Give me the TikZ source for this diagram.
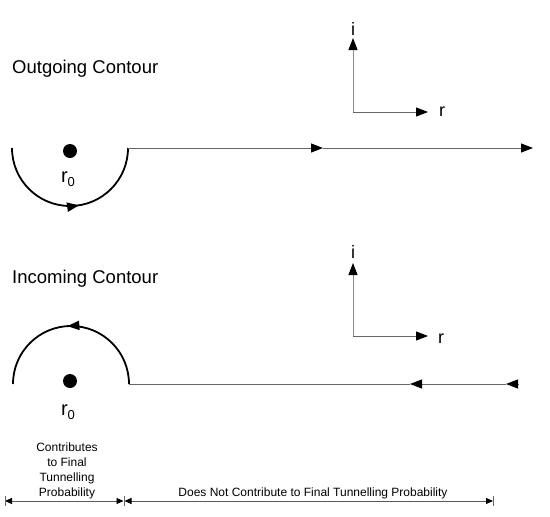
\documentclass[tikz,border=0pt]{standalone}
\usepackage{fontspec}
\setmainfont{Liberation Sans}
\usetikzlibrary{arrows.meta}
\usetikzlibrary{decorations.markings}

\tikzset{
	bigtip/.style={-{Triangle[length=12pt,width=9pt,color=black]}},
	dimline/.style={{Triangle[length=7pt,width=6pt,color=black]}-{Triangle[length=7pt,width=6pt,color=black]},black!65,line width=0.9pt},
	thinline/.style={black!60,line width=1pt},
	axisline/.style={black!45,line width=1pt},
	contour/.style={line width=1.8pt},
	midtip/.style={postaction={decorate},decoration={markings,mark=at position #1 with {\arrow{Triangle[length=12pt,width=9pt]}}}},
	heading/.style={anchor=base west,inner sep=0pt,font=\fontsize{18.5}{22}\selectfont},
	axislabel/.style={inner sep=0pt,font=\fontsize{18}{22}\selectfont},
	smalltext/.style={inner sep=0pt,align=center,font=\fontsize{12}{15}\selectfont},
	pole/.style={circle,fill,inner sep=0pt,minimum size=14pt},
	polelabel/.style={anchor=base,inner sep=0pt,font=\fontsize{20}{22}\selectfont}
}

\newcommand{\rzero}{r\raisebox{-4pt}{\fontsize{13}{14}\selectfont 0}}

\begin{document}
\begin{tikzpicture}[x=1pt,y=-1pt]
			\useasboundingbox (0,0) rectangle (550,517);
			
			\node[heading] (out) at (12,73) {Outgoing Contour};
			\coordinate (O1) at (353,112);
			\coordinate (I1) at (353,38);
			\coordinate (R1) at (428,112);
			\node[axislabel,anchor=base] (i1) at (353,35) {i};
			\node[axislabel,anchor=base west] (r1) at (439,116) {r};
			\draw[axisline,bigtip] (O1) -- (I1);
			\draw[thinline,bigtip] (O1) -- (R1);
			
			\node[pole] (P1) at (70,151) {};
			\node[polelabel] (l1) at (68,182) {\rzero};
			\coordinate (A1) at (12,148);
			\coordinate (B1) at (128,148);
			\coordinate (M1) at (323,148);
			\coordinate (E1) at (533,148);
			\draw[contour,midtip=0.55] (A1) arc (180:0:58);
			\draw[thinline,bigtip] (B1) -- (M1);
			\draw[thinline,bigtip] (M1) -- (E1);
			
			\node[heading] (in) at (12,283) {Incoming Contour};
			\coordinate (O2) at (353,336);
			\coordinate (I2) at (353,263);
			\coordinate (R2) at (428,336);
			\node[axislabel,anchor=base] (i2) at (353,258) {i};
			\node[axislabel,anchor=base west] (r2) at (438,343) {r};
			\draw[axisline,bigtip] (O2) -- (I2);
			\draw[thinline,bigtip] (O2) -- (R2);
			
			\node[pole] (P2) at (70,381) {};
			\node[polelabel] (l2) at (68,415) {\rzero};
			\coordinate (A2) at (129,384);
			\coordinate (M2) at (410,384);
			\coordinate (T2) at (506,384);
			\coordinate (E2) at (518,384);
			\draw[contour,midtip=0.52] (A2) arc (0:-180:58);
			\draw[thinline,bigtip] (E2) -- (T2);
			\draw[thinline,bigtip] (T2) -- (M2);
			\draw[thinline] (M2) -- (A2);
			
			\node[smalltext,anchor=south] (c1) at (67,499) {Contributes\\to Final\\Tunnelling\\Probability};
			\node[smalltext,anchor=base] (c2) at (313,496) {Does Not Contribute to Final Tunnelling Probability};
			\coordinate (D0) at (5,501);
			\coordinate (D1) at (124,501);
			\coordinate (D2) at (493,501);
			\draw[dimline] (D0) -- ([xshift=-0.5pt]D1);
			\draw[dimline] ([xshift=0.5pt]D1) -- (D2);
			\draw[thinline] (D0) ++(0,-5) -- ++(0,10);
			\draw[thinline] (D1) ++(0,-5) -- ++(0,10);
			\draw[thinline] (D2) ++(0,-5) -- ++(0,10);
			
		\end{tikzpicture}
\end{document}
